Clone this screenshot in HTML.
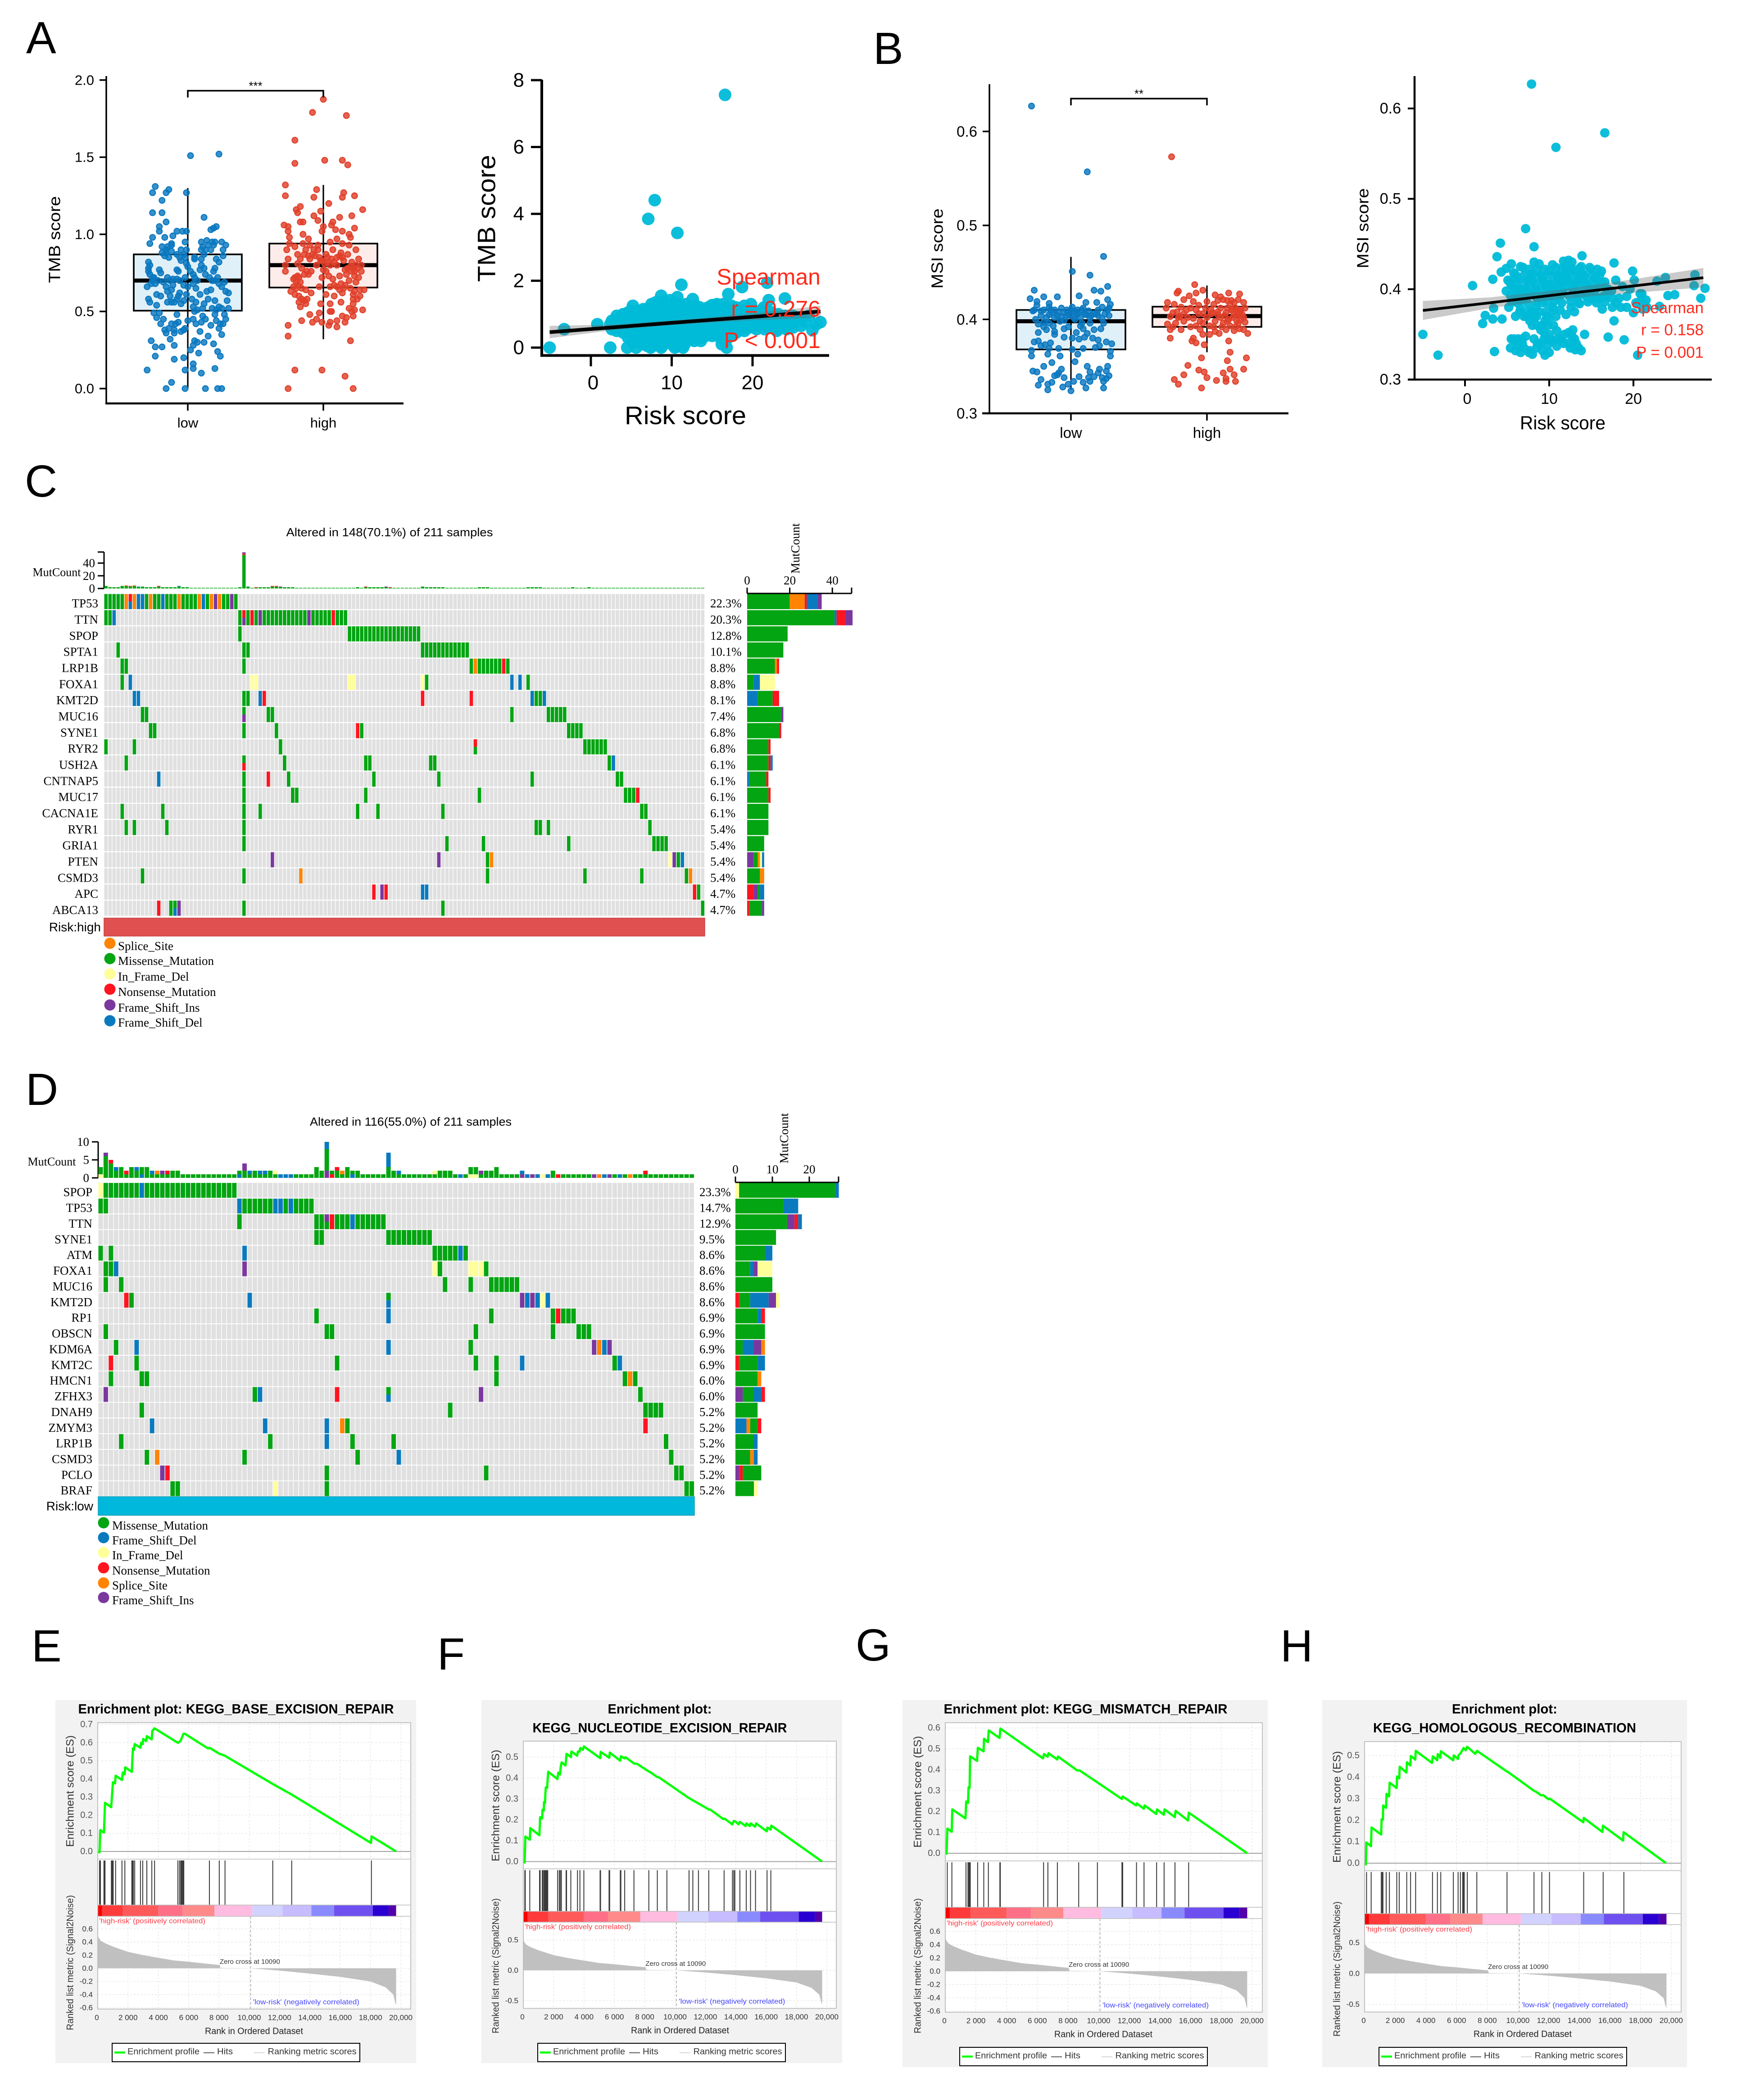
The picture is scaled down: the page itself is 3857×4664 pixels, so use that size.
<!DOCTYPE html>
<html><head><meta charset="utf-8"><title>Figure</title>
<style>
html,body{margin:0;padding:0;background:#fff}
svg{display:block}
text{font-family:"Liberation Sans",Arial,sans-serif}
.serif{font-family:"Liberation Serif","Times New Roman",serif}
</style></head>
<body>
<svg id="fig" xmlns="http://www.w3.org/2000/svg" width="3857" height="4664" viewBox="0 0 3857 4664">
<rect width="3857" height="4664" fill="#fff"/>
<text x="58" y="118" font-size="100">A</text>
<text x="1939" y="142" font-size="100">B</text>
<text x="55" y="1103" font-size="100">C</text>
<text x="57" y="2454" font-size="100">D</text>
<text x="70" y="3690" font-size="100">E</text>
<text x="971" y="3708" font-size="100">F</text>
<text x="1900" y="3688" font-size="100">G</text>
<text x="2843" y="3690" font-size="100">H</text>
</svg>
<script>
/* ===== BOX PLOT DATA: [jitter in category units, value] ===== */
const tmbTicks = [0, 0.5, 1.0, 1.5, 2.0];
const msiTicks = [0.3, 0.4, 0.5, 0.6];
const groupLabels = ['low', 'high'];
/* box stats: [q1, median, q3, whiskerLow, whiskerHigh] */
const tmbBoxLow = [0.505, 0.70, 0.87, 0, 1.30];
const tmbBoxHigh = [0.655, 0.80, 0.94, 0.32, 1.32];
const msiBoxLow = [0.368, 0.398, 0.41, 0.325, 0.4665];
const msiBoxHigh = [0.392, 0.4035, 0.4135, 0.365, 0.436];
const tmbLowPoints = [[.02,1.51],[.23,1.52],[-.24,1.31],[-.26,1.27],[-.14,1.29],[-.16,1.27],[-.01,1.27],[-.19,1.22],[-.26,1.14],[-.19,1.14],[.12,1.11],[.21,1.05],[.19,1.04],[.17,1.03],[-.16,1.08],[-.21,1.05],[-.21,1.02],[-.01,1.02],[-.04,1.02],[-.08,1.02],[-.11,.99],[-.17,.98],[-.26,.98],[-.28,.94],[-.12,.94],[.14,.96],[.18,.95],[.15,.93],[.2,.95],[.25,.95],[.28,.93],[-.12,.93],[-.15,.92],[-.19,.92],[-.16,.9],[-.19,.88],[-.08,.87],[-.02,.95],[-.01,.9],[-.05,.9],[.1,.9],[.12,.87],[.05,.85],[.17,.9],[.26,.9],[.19,.93],[.26,.86],[-.02,.85],[.05,.84],[-.05,.83],[-.29,.82],[-.28,.8],[-.29,.78],[-.29,.76],[-.28,.74],[-.21,.77],[-.2,.75],[-.26,.72],[-.3,.66],[-.26,.7],[-.24,.68],[-.18,.69],[-.13,.7],[-.08,.77],[-.07,.76],[-.01,.81],[0,.79],[.02,.76],[.04,.74],[.1,.8],[.12,.78],[.1,.84],[.21,.84],[.23,.82],[.2,.78],[.19,.76],[.16,.72],[.18,.7],[.23,.68],[.27,.69],[.28,.63],[.04,.68],[.06,.65],[0,.66],[-.03,.67],[-.08,.71],[-.11,.71],[-.16,.66],[-.15,.63],[-.12,.64],[-.06,.62],[-.07,.6],[-.13,.6],[-.2,.6],[-.23,.61],[-.29,.58],[-.28,.56],[-.23,.54],[-.12,.56],[-.1,.56],[-.01,.61],[.03,.58],[.06,.56],[.09,.61],[.14,.63],[.17,.64],[.2,.57],[.29,.57],[.3,.62],[.3,.52],[.23,.53],[.21,.51],[.18,.52],[.11,.52],[.07,.51],[.05,.5],[.11,.47],[-.25,.49],[-.21,.49],[-.23,.46],[-.08,.48],[0,.44],[.04,.45],[.1,.43],[.2,.48],[.28,.45],[.26,.42],[.24,.42],[-.07,.43],[-.12,.42],[-.02,.39],[-.14,.39],[-.1,.38],[-.16,.36],[-.1,.36],[-.05,.37],[-.03,.38],[.09,.37],[.15,.34],[.23,.39],[.25,.35],[.05,.31],[.04,.28],[.07,.3],[.12,.3],[.19,.29],[-.19,.27],[-.1,.28],[.08,.23],[.22,.24],[.24,.21],[-.24,.21],[-.1,.19],[-.03,.2],[.04,.16],[.04,.13],[.2,.13],[-.02,.12],[-.3,.12],[-.12,.04],[-.16,0],[-.02,0],[.13,0],[.22,0],[.25,0],
[-.17,.86],[-.16,.88],[-.14,.85],[-.12,.89],[-.03,.87],[-.06,.85],[.1,.95],[.11,.92],[.13,.9],[-.27,.68],[-.25,.72],[-.22,.7],[-.15,.72],[-.11,.67],[-.06,.7],[-.02,.72],[.05,.72],[.07,.7],[.09,.77],[.13,.74],[.2,.7],[.22,.72],[.25,.66],[-.15,.56],[-.08,.58],[-.05,.55],[-.03,.57],[.04,.53],[.12,.55],[.15,.58],[.25,.52],[.27,.48],[-.18,.45],[-.09,.42],[.06,.42],[.13,.45],[.17,.41],[-.27,.31],[-.24,.27],[.02,.25],[.1,.1],[-.17,.38],[-.2,.42],[.21,.44],[-.13,.32]];
const tmbHighPoints = [[0,1.875],[-.08,1.79],[.17,1.77],[-.21,1.61],[-.21,1.46],[.01,1.48],[.14,1.48],[.18,1.45],[-.28,1.32],[-.05,1.29],[.15,1.27],[.14,1.24],[-.28,1.25],[-.07,1.24],[.23,1.25],[.04,1.2],[.29,1.16],[-.17,1.18],[-.2,1.16],[-.19,1.14],[-.02,1.15],[-.07,1.12],[.21,1.12],[.12,1.11],[-.04,1.09],[.07,1.08],[-.17,1.08],[-.15,1.08],[-.29,1.06],[-.26,1.05],[.06,1.06],[0,1.05],[.23,1.04],[-.26,1.02],[-.15,1],[-.01,1.02],[.09,1.03],[.14,1.02],[.19,1],[-.25,.98],[-.11,.97],[.2,.98],[.1,.97],[-.25,.94],[-.15,.94],[-.1,.93],[-.04,.93],[.05,.95],[.14,.94],[.19,.93],[-.27,.9],[-.21,.92],[-.13,.9],[-.07,.9],[.07,.9],[.13,.88],[.24,.9],[-.19,.87],[.02,.87],[.1,.85],[.18,.87],[-.26,.84],[-.17,.84],[-.1,.84],[-.03,.85],[.03,.85],[.26,.84],[-.28,.8],[-.19,.81],[-.05,.8],[.1,.8],[.21,.82],[.28,.8],[-.28,.76],[-.16,.78],[-.09,.76],[0,.77],[.16,.77],[.23,.76],[.28,.76],[-.19,.73],[-.01,.72],[.12,.73],[.26,.72],[-.21,.72],[-.11,.74],[-.2,.69],[-.17,.69],[-.03,.66],[.13,.68],[.19,.7],[.24,.69],[.1,.66],[.16,.67],[-.19,.67],[-.16,.65],[.27,.64],[.3,.64],[-.21,.61],[-.13,.64],[-.09,.62],[.02,.61],[.08,.6],[.14,.62],[.22,.61],[.22,.58],[-.18,.56],[-.12,.58],[-.02,.55],[.05,.55],[.13,.56],[.22,.55],[.19,.52],[.29,.51],[.23,.51],[-.1,.48],[-.16,.44],[-.08,.43],[-.05,.45],[-.01,.43],[.05,.43],[.1,.44],[.16,.43],[.1,.4],[-.26,.41],[-.26,.34],[.2,.31],[-.21,.12],[-.01,.12],[.16,.08],[-.26,0],[.22,0],
[.2,.79],[.22,.78],[.24,.8],[.25,.78],[.21,.76],[.18,.78],[.17,.74],[.23,.73],[.08,.82],[.05,.8],[.03,.82],[.01,.81],[.06,.84],[-.02,.83],[-.06,.86],[-.08,.87],[-.11,.86],[-.14,.87],[-.04,.9],[-.01,.83],[.12,.86],[.14,.85],[.15,.83],[.02,.76],[.04,.73],[.07,.71],[-.12,.76],[-.14,.74],[-.18,.72],[-.22,.71],[-.2,.65],[-.22,.66],[-.24,.63],[-.18,.6],[-.16,.58],[-.14,.57],[.05,.66],[.08,.67],[.12,.64],[.15,.65],[.2,.65],[.23,.63],[.27,.6],[.25,.58],[-.13,.55],[-.17,.53],[.21,.5],[.22,.47],[.17,.46],[.14,.47],[.05,.5],[.06,.5],[-.03,.49],[.04,.41]];
const msiLowPoints = [[-.29,.627],[.12,.557],[.24,.467],[.01,.451],[.14,.447],[.27,.435],[-.27,.431],[.17,.431],[-.1,.424],[-.2,.424],[-.3,.422],[-.25,.419],[-.16,.417],[.06,.425],[.22,.43],[.27,.421],[.19,.418],[.11,.418],[-.25,.415],[-.16,.413],[-.28,.409],[-.07,.412],[.01,.413],[.09,.412],[.23,.413],[.28,.412],[-.22,.409],[-.14,.407],[-.05,.407],[.04,.407],[.13,.409],[.19,.406],[.28,.404],[-.18,.402],[-.1,.404],[-.01,.404],[.07,.402],[.15,.404],[.23,.401],[-.24,.395],[-.16,.396],[-.08,.398],[-.02,.392],[.07,.393],[.14,.396],[.24,.396],[-.2,.392],[-.12,.387],[-.18,.389],[.09,.39],[.17,.389],[-.12,.384],[-.05,.381],[.01,.38],[.06,.379],[.1,.381],[.16,.38],[-.24,.377],[-.19,.373],[.2,.378],[.26,.376],[.3,.374],[-.09,.369],[-.16,.369],[-.22,.372],[.01,.368],[.09,.369],[.21,.372],[-.29,.367],[-.17,.363],[-.29,.361],[.29,.366],[.29,.361],[.03,.355],[-.14,.354],[.12,.35],[-.07,.347],[-.28,.345],[-.25,.344],[-.09,.343],[.14,.344],[.2,.343],[.26,.345],[-.1,.341],[.06,.339],[.13,.338],[.23,.338],[.26,.337],[-.22,.336],[.02,.334],[-.14,.333],[-.17,.331],[-.06,.328],[-.02,.331],[.14,.334],[.24,.334],[.11,.327],[.24,.327],[-.17,.325],[0,.324],[.05,.406],[-.03,.41],[.11,.405],[-.12,.402],[-.16,.405],[.01,.408],[.03,.4],[-.05,.399],[.08,.396],[.2,.41],
[-.27,.41],[-.22,.404],[-.2,.41],[-.15,.41],[-.12,.41],[-.09,.408],[-.07,.403],[-.03,.404],[0,.41],[.02,.402],[.05,.41],[.08,.41],[.1,.406],[.14,.402],[.17,.406],[.2,.404],[.25,.406],[.27,.41],[.29,.416],[-.26,.4],[-.2,.397],[-.13,.393],[-.05,.39],[.04,.386],[.12,.385],[.22,.39],[-.24,.386],[-.27,.376],[-.15,.375],[-.08,.361],[.05,.363],[.18,.37],[.27,.35],[.21,.347],[.17,.339],[.09,.333],[-.12,.34],[-.2,.35],[-.05,.338],[.28,.34],[-.24,.33]];
const msiHighPoints = [[-.26,.573],[-.09,.437],[-.21,.43],[-.03,.431],[-.22,.428],[.16,.428],[-.08,.428],[.06,.426],[.24,.427],[.1,.424],[-.29,.418],[-.17,.421],[-.1,.419],[0,.419],[.12,.421],[.23,.421],[.27,.418],[-.24,.416],[-.06,.415],[.05,.416],[.17,.416],[-.3,.412],[-.19,.413],[-.12,.412],[-.01,.412],[.1,.412],[.21,.412],[.28,.412],[-.25,.407],[-.17,.406],[-.06,.406],[.04,.407],[.14,.407],[.24,.406],[-.21,.402],[-.1,.401],[0,.402],[.1,.402],[.19,.402],[.27,.402],[-.17,.398],[-.05,.398],[.06,.398],[.15,.398],[.23,.396],[.28,.397],[-.29,.395],[-.08,.393],[.02,.393],[.11,.392],[.21,.392],[-.27,.389],[-.19,.389],[-.05,.389],[.06,.387],[.14,.389],[.27,.389],[.3,.385],[-.03,.384],[.02,.384],[-.27,.38],[.16,.377],[-.11,.377],[-.08,.375],[-.02,.373],[.17,.365],[-.04,.359],[.29,.359],[.15,.356],[-.14,.351],[.17,.347],[.27,.347],[-.06,.346],[-.02,.344],[.12,.343],[-.17,.341],[.2,.341],[0,.338],[.14,.337],[-.24,.336],[.07,.335],[.21,.334],[.14,.334],[-.21,.331],[-.04,.327],[.18,.41],[.22,.405],[.25,.41],[.16,.4],[.08,.405],[.03,.41],
[.2,.405],[.22,.41],[.24,.41],[.26,.405],[.25,.4],[.22,.398],[.18,.41],[.15,.412],[.13,.404],[.08,.408],[.03,.406],[-.03,.406],[-.08,.41],[-.15,.41],[-.22,.408],[-.27,.403],[-.23,.396],[-.2,.403],[-.14,.402],[-.03,.396],[.12,.396],[.17,.393],[.24,.39],[.05,.392],[-.12,.392],[-.25,.392],[.09,.385],[.2,.388],[-.1,.38],[.18,.42],[.08,.42],[-.13,.425],[.2,.418],[.15,.42]];

/* ===== SCATTER DATA: [risk score, value] ===== */
const riskTicks = [0, 10, 20];
const tmbScatterTicks = [0, 2, 4, 6, 8];
const msiScatterTicks = [0.3, 0.4, 0.5, 0.6];
const tmbScatter = [[16.6,7.56],[7.9,4.41],[7.1,3.85],[10.7,3.43],[-5.1,0],[-3.3,.55],[11.2,1.88],[18.7,1.81],[21.8,1.94],[17,1.6],[8.7,1.55],[10.7,1.51],[12.6,1.45],[24,1.47],[5.2,1.25],[22,1.42],[19.8,1.3],[15.8,1.25],[2.4,0],[4.5,0],[5.6,0],[7.4,0],[8.7,0],[10.4,0],[11.4,0],[16.8,0],[.8,.7],[2.4,.7],[27.4,.52],[28.4,.76],[27.9,.7],
[2.6,.55],[2.6,.8],[3.2,.65],[3.2,.95],[3.2,.5],[4,.45],[4,.7],[4,1],[4,.85],[4.6,.3],[4.6,.55],[4.6,.8],[4.6,1.05],[5.2,.15],[5.2,.4],[5.2,.7],[5.2,.95],[5.8,.25],[5.8,.6],[5.8,.85],[5.8,1.1],[6.4,.1],[6.4,.35],[6.4,.55],[6.4,.75],[6.4,1],[7,.2],[7,.45],[7,.7],[7,.9],[7,1.15],[7.6,.05],[7.6,.3],[7.6,.55],[7.6,.8],[7.6,1.05],[8.2,.15],[8.2,.4],[8.2,.65],[8.2,.9],[8.2,1.2],[8.8,.05],[8.8,.3],[8.8,.55],[8.8,.8],[8.8,1],[8.8,1.3],[9.4,.2],[9.4,.45],[9.4,.7],[9.4,.95],[9.4,1.2],[10,.1],[10,.35],[10,.6],[10,.85],[10,1.1],[10,1.3],[10.6,.05],[10.6,.3],[10.6,.55],[10.6,.8],[10.6,1.05],[11.2,.15],[11.2,.4],[11.2,.65],[11.2,.9],[11.2,1.15],[11.8,.3],[11.8,.55],[11.8,.8],[11.8,1.05],[12.4,.45],[12.4,.7],[12.4,.95],[12.4,1.2],[13,.35],[13,.6],[13,.85],[13,1.1],[13.6,.3],[13.6,.5],[13.6,.75],[13.6,1],[14.2,.35],[14.2,.6],[14.2,.85],[14.2,1.05],[14.8,.45],[14.8,.7],[14.8,.95],[15.4,.4],[15.4,.65],[15.4,.9],[15.4,1.15],[16,.3],[16,.55],[16,.8],[16,1.05],[16.6,.2],[16.6,.45],[16.6,.7],[16.6,.95],[16.6,1.2],[17.2,.35],[17.2,.6],[17.2,.85],[17.2,1.1],[17.8,.5],[17.8,.75],[17.8,1],[18.4,.55],[18.4,.8],[18.4,1.05],[19,.6],[19,.85],[19,1.1],[19.6,.6],[19.6,.9],[20.2,.65],[20.2,.9],[20.2,1.1],[20.8,.7],[20.8,.95],[21.4,.75],[21.4,1],[21.4,1.2],[22,.6],[22,.85],[22,1.1],[22.6,.6],[22.6,.85],[22.6,1],[23.2,.55],[23.2,.8],[23.2,1],[23.8,.6],[23.8,.85],[24.4,.7],[24.4,.9],[25,.75],[25,.95],[26,.85],[27,.95],
[6.5,1.15],[7.5,1.3],[8,1.35],[9,1.38],[9.8,1.42],[10.3,1.35],[11,1.3],[11.8,1.3],[13,1.25],[13.5,1.2],[14.5,1.2],[15,1.27],[15.6,1.3],[16.4,1.3],[17.4,1.25],[18,1.2],[19,1.25],[20,1.05],[21,1.1],[23,.95],[24,.95],[25.5,.85],[26.5,.78],[3.5,.85],[5,1.1],[11.6,.1],[9,.1],[7,.05],[6,.2],[14,.5],[15,.35],[12.2,.25],[12.8,.2],[13.6,.2],[16.2,.1],[17,.3],[18,.45],[19,.5],[20.5,.55],[21.5,.55],[23,.5],[24.2,.55],[25,.6],[26,.65]];
const msiScatter = [[7.9,.627],[16.6,.573],[10.8,.557],[7.2,.467],[4.2,.451],[8.2,.447],[3.8,.436],[.9,.404],[3.3,.411],[-5,.35],[-3.2,.327],[3.5,.331],[2.1,.362],[2.4,.371],[3.3,.367],[4.4,.367],[3.4,.379],[13.9,.437],[17.7,.429],[19.9,.42],[27.3,.416],[27.2,.404],[28.5,.401],[28,.39],[24.1,.393],[24.9,.394],[23.8,.413],[22.8,.409],[23.1,.381],[20,.374],[20.5,.327],[18.9,.344],[17,.347],[17.7,.365],[16.3,.378],[14.2,.35],
[5.1,.41],[4.9,.398],[5.5,.405],[4.3,.419],[4.9,.423],[5.5,.428],[5.8,.418],[6.2,.412],[6.6,.425],[7.2,.4],[7.5,.41],[7.9,.417],[8.2,.43],[8.5,.422],[8.8,.428],[9.3,.41],[9.6,.403],[10,.42],[10.4,.427],[10.9,.415],[11.3,.405],[11.7,.431],[12,.425],[12.3,.432],[12.7,.43],[13,.42],[13.4,.41],[13.8,.425],[14.1,.415],[14.5,.405],[15,.422],[15.5,.412],[16,.403],[16.2,.42],[16.6,.408],[17,.4],[17.4,.398],[17.9,.41],[18.3,.39],[18.7,.403],[19.2,.392],[19.6,.4],[20.1,.41],[20.3,.385],[21,.395],[21.5,.388],[6,.395],[6.5,.4],[7,.39],[7.7,.395],[8.4,.4],[9,.39],[9.8,.395],[10.5,.4],[11,.39],[11.6,.398],[12.2,.41],[12.8,.4],[13.3,.39],[14,.395],[14.7,.39],[15.3,.39],[16,.39],[16.8,.392],[17.5,.39],[18.5,.38],[8,.41],[9,.415],[10,.405],[11,.41],[12,.415],[13,.405],[14,.41],[15,.4],[5.2,.38],[6.2,.385],[6.6,.378],[7,.37],[7.3,.37],[8,.375],[8.4,.38],[9.2,.385],[9.6,.375],[10,.368],[10.4,.38],[8.2,.368],[8.6,.36],[9.2,.36],[9.4,.352],[9.7,.37],[12,.372],[13,.375],[12.6,.38],[13.5,.385],[11.3,.377],[10.8,.37],[10.5,.36],[10.9,.354],[12.3,.352],[12.8,.355],[5.5,.345],[6,.343],[6.4,.338],[6.8,.345],[7.2,.348],[7,.335],[7.6,.33],[6,.332],[6.6,.33],[5.4,.335],[7.7,.332],[8,.328],[8.5,.335],[9,.34],[9.4,.345],[9.8,.338],[10,.33],[9.5,.327],[9.2,.332],[10.4,.342],[10.9,.337],[11.4,.345],[11.8,.35],[12.2,.34],[12.7,.348],[13.2,.34],[13.5,.335],[13.8,.332],[13,.345],
[5.6,.386],[6.6,.387],[7.5,.384],[8.6,.386],[9.7,.385],[10.6,.387],[11.5,.385],[12.6,.386],[13.6,.384],[14.6,.386],[15.6,.385],[16.6,.386],
[5.4,.393],[6.4,.392],[7.4,.394],[8.4,.392],[9.4,.393],[10.4,.392],[11.4,.394],[12.4,.392],[13.4,.393],[14.4,.392],[15.4,.394],[16.4,.392],
[5.8,.402],[6.8,.4],[7.8,.402],[8.8,.4],[9.8,.402],[10.8,.4],[11.8,.402],[12.8,.401],[13.8,.402],[14.8,.4],[15.8,.402],[16.8,.4],
[5.3,.408],[6.3,.407],[7.3,.409],[8.3,.407],[9.3,.408],[10.3,.407],[11.3,.409],[12.3,.407],[13.3,.408],[14.3,.407],[15.3,.409],[16.3,.407],
[6,.416],[7,.415],[8,.417],[9,.415],[10,.416],[11,.415],[12,.417],[13,.415],[14,.417],[15,.415],[16,.416],
[6.9,.424],[7.6,.422],[9.5,.422],[10.8,.424],[11.5,.423],[12.6,.424],[13.6,.423],[14.8,.424],[15.7,.422],
[7.5,.375],[8.5,.37],[9.5,.365],[8,.36],[9,.355],[9.8,.36],[10,.35],[9.6,.345],[7.7,.365],[8.8,.375],[10.5,.377],[6.5,.375],[6,.37],[5.8,.345],[6.3,.345],[6.8,.34],[8.2,.345],[8.6,.34],[10.2,.345],[12.5,.335],[12.9,.338],[13.1,.333],[11.7,.34],[11,.345],
[20.8,.395],[21,.39],[21.3,.385],[21.6,.38],[21.1,.378],[20.6,.385],[19.2,.38],[18,.385],[17.5,.38]];
/* regression: risk, fit, lower, upper */
const tmbFitRisk = [-5.1, 3, 11, 20, 28.4];
const tmbFitValue = [0.46, 0.61, 0.76, 0.92, 1.08];
const tmbFitLow = [0.28, 0.53, 0.69, 0.82, 0.89];
const tmbFitHigh = [0.65, 0.69, 0.83, 1.02, 1.25];
const msiFitRisk = [-5, 3, 11, 20, 28.3];
const msiFitValue = [0.3765, 0.385, 0.394, 0.4036, 0.4127];
const msiFitLow = [0.366, 0.379, 0.389, 0.396, 0.402];
const msiFitHigh = [0.387, 0.391, 0.399, 0.411, 0.4235];

/* ===== ONCOPLOT C DATA ===== */
const mutColors = {M:'#03a512',S:'#ff8404',I:'#ffff99',N:'#ff1420',F:'#7a389e',D:'#0a7abf'};
const mutNames = {M:'Missense_Mutation',S:'Splice_Site',I:'In_Frame_Del',N:'Nonsense_Mutation',F:'Frame_Shift_Ins',D:'Frame_Shift_Del'};
const cGenes = ['TP53','TTN','SPOP','SPTA1','LRP1B','FOXA1','KMT2D','MUC16','SYNE1','RYR2','USH2A','CNTNAP5','MUC17','CACNA1E','RYR1','GRIA1','PTEN','CSMD3','APC','ABCA13'];
const cPercents = [22.3,20.3,12.8,10.1,8.8,8.8,8.1,7.4,6.8,6.8,6.1,6.1,6.1,6.1,5.4,5.4,5.4,5.4,4.7,4.7];
const cLegendOrder = ['S','M','I','N','F','D'];
const cTopTicks = [0,20,40];
const cSideTicks = [0,20,40];
const cCells = [
 [[0,4,'M'],[5,5,'S'],[6,6,'N','D'],[7,7,'S'],[8,9,'D'],[10,10,'M'],[11,11,'S'],[12,13,'M'],[14,14,'D'],[15,17,'M'],[18,18,'S'],[19,22,'M'],[23,23,'S'],[24,24,'D'],[25,25,'M'],[26,26,'S'],[27,27,'F'],[28,28,'S'],[29,30,'M'],[31,31,'F'],[32,32,'M']],
 [[0,1,'M'],[2,2,'D'],[33,33,'M'],[34,34,'N','F'],[35,35,'M'],[36,36,'N'],[37,37,'M'],[38,38,'F'],[39,49,'M'],[50,50,'F'],[51,55,'M'],[56,56,'N'],[57,59,'M']],
 [[33,33,'M'],[60,77,'M']],
 [[3,3,'M'],[34,35,'M'],[78,89,'M']],
 [[4,5,'M'],[34,34,'M'],[90,90,'M'],[91,91,'S'],[92,97,'M'],[98,98,'N'],[99,99,'M']],
 [[4,4,'M'],[6,6,'D'],[36,37,'I'],[60,61,'I'],[78,78,'I'],[79,79,'M'],[100,100,'D'],[102,102,'D'],[104,104,'M']],
 [[7,8,'D'],[34,35,'M'],[38,38,'D'],[39,39,'N'],[78,78,'N'],[90,90,'N'],[105,105,'D'],[106,107,'M'],[108,108,'D']],
 [[9,10,'M'],[34,34,'M','F'],[40,41,'M'],[100,100,'M'],[109,113,'M']],
 [[11,12,'M'],[34,34,'M'],[42,42,'M'],[62,62,'N'],[63,63,'M'],[114,117,'M']],
 [[0,0,'M'],[7,7,'M'],[43,43,'M'],[91,91,'N','M'],[118,123,'M']],
 [[5,5,'M'],[34,34,'M','N'],[44,44,'M'],[64,65,'M'],[80,81,'M'],[124,124,'M'],[125,125,'D']],
 [[13,13,'D'],[34,34,'M'],[40,40,'N'],[45,45,'M'],[66,66,'M'],[82,82,'M'],[105,105,'M'],[126,127,'M']],
 [[34,34,'M'],[46,47,'M'],[64,64,'M'],[92,92,'M'],[128,130,'M'],[131,131,'N']],
 [[4,4,'M'],[14,14,'M'],[34,34,'M'],[38,38,'M'],[62,62,'M'],[67,67,'M'],[83,83,'M'],[132,133,'M']],
 [[5,5,'M'],[7,7,'M'],[15,15,'M'],[34,34,'M'],[106,107,'M'],[109,109,'M'],[134,134,'M']],
 [[34,34,'M'],[84,84,'M'],[93,93,'M'],[114,114,'M'],[135,138,'M']],
 [[41,41,'F'],[82,82,'F'],[94,94,'M'],[95,95,'S'],[139,139,'I'],[140,140,'F'],[141,141,'M'],[142,142,'D']],
 [[9,9,'M'],[34,34,'M'],[48,48,'S'],[94,94,'M'],[118,118,'M'],[132,132,'M'],[143,143,'M'],[144,144,'S']],
 [[66,66,'N'],[68,68,'F'],[69,69,'N'],[78,79,'D'],[145,145,'N'],[146,146,'M']],
 [[13,13,'N'],[16,16,'M'],[17,17,'M','D'],[18,18,'F'],[34,34,'M'],[83,83,'M'],[147,147,'M']]
];
const cSideBars = [
 [['M',20],['S',7],['N',1],['D',5],['F',2]],[['M',41],['D',1],['N',4],['F',3.5]],[['M',19]],[['M',17]],[['M',13],['S',1],['N',1]],
 [['M',3],['D',3],['I',7]],[['D',5],['M',7],['N',3]],[['M',16],['F',1]],[['M',15],['N',1]],[['M',10],['N',1]],
 [['M',10],['N',1],['D',1]],[['D',1],['M',8],['N',1]],[['M',10],['N',1]],[['M',10]],[['M',10]],
 [['M',8]],[['F',3],['M',2],['S',1],['I',1],['D',1]],[['M',6],['S',2]],[['N',3],['F',2],['M',1],['D',2]],[['N',1],['M',6],['F',1]]
];
const cTopCounts = [4,2,2,2,4,4,3,4,2,3,2,2,2,3,2,2,2,2,3,2,2,1,1,1,1,1,1,1,1,1,1,1,1,2,53,3,1,1,2,2,2,3,3,2,2,2,2,1,1,1,1,1,1,1,1,1,1,1,1,1,1,1,2,1,2,2,2,2,2,2,1,1,1,1,1,1,1,1,3,2,2,2,2,2,1,1,1,1,1,1,1,1,2,2,2,1,1,1,1,1,1,1,1,1,2,2,2,2,1,1,1,1,1,1,1,2,1,1,1,2,1,1,1,1,1,1,1,1,1,1,1,1,1,1,1,1,1,1,1,1,1,1,1,1,1,1,1,1];
const cTopExtras = [[5,'S'],[6,'N'],[7,'S'],[8,'D'],[13,'N'],[18,'D'],[34,'NNFF'],[37,'N'],[41,'N'],[42,'N'],[43,'F'],[64,'N'],[69,'F'],[70,'N']];

/* ===== ONCOPLOT D DATA ===== */
const dGenes = ['SPOP','TP53','TTN','SYNE1','ATM','FOXA1','MUC16','KMT2D','RP1','OBSCN','KDM6A','KMT2C','HMCN1','ZFHX3','DNAH9','ZMYM3','LRP1B','CSMD3','PCLO','BRAF'];
const dPercents = [23.3,14.7,12.9,9.5,8.6,8.6,8.6,8.6,6.9,6.9,6.9,6.9,6.0,6.0,5.2,5.2,5.2,5.2,5.2,5.2];
const dLegendOrder = ['M','D','I','N','S','F'];
const dTopTicks = [0,5,10];
const dSideTicks = [0,10,20];
const dCells = [
 [[0,0,'I'],[1,7,'M'],[8,8,'D'],[9,26,'M']],
 [[0,1,'M'],[27,27,'D'],[28,33,'M'],[34,35,'D'],[36,36,'M'],[37,37,'D'],[38,41,'M']],
 [[27,27,'M'],[42,43,'M'],[44,44,'F','M'],[45,45,'N'],[46,48,'M'],[49,49,'D'],[50,55,'M']],
 [[42,43,'M'],[56,64,'M']],
 [[0,0,'M'],[2,2,'M'],[28,28,'D'],[65,69,'M'],[70,70,'D'],[71,71,'M']],
 [[1,2,'M'],[3,3,'D'],[28,28,'F'],[65,65,'I'],[66,66,'M'],[72,74,'I'],[75,75,'M']],
 [[1,1,'M'],[4,4,'M'],[67,67,'M'],[72,72,'M'],[76,81,'M']],
 [[5,5,'N'],[6,6,'M'],[29,29,'D'],[56,56,'M','D'],[82,82,'F'],[83,83,'D'],[84,84,'F'],[85,85,'D'],[86,86,'I'],[87,87,'D']],
 [[42,42,'M'],[56,56,'D'],[76,76,'M'],[88,88,'M'],[89,89,'N'],[90,92,'M']],
 [[1,1,'M'],[44,45,'M'],[73,73,'M'],[88,88,'M'],[93,95,'M']],
 [[3,3,'M'],[7,7,'D'],[56,56,'D'],[72,72,'M'],[96,96,'F'],[97,97,'S'],[98,98,'D'],[99,99,'F']],
 [[2,2,'N'],[7,7,'M'],[46,46,'M'],[73,73,'M'],[77,77,'M'],[82,82,'D'],[100,100,'M'],[101,101,'D']],
 [[2,2,'M'],[8,9,'M'],[77,77,'M'],[102,102,'M'],[103,103,'S'],[104,104,'M']],
 [[1,1,'F'],[30,30,'M'],[31,31,'D'],[46,46,'N'],[56,56,'M','D'],[74,74,'F'],[105,105,'M']],
 [[8,8,'M'],[68,68,'M'],[106,109,'M']],
 [[10,10,'D'],[32,32,'D'],[44,44,'D'],[47,47,'S'],[48,48,'M'],[106,106,'N']],
 [[4,4,'M'],[33,33,'M'],[44,44,'D'],[49,49,'M'],[57,57,'M'],[110,110,'M']],
 [[9,9,'M'],[11,11,'S'],[28,28,'M'],[50,50,'M'],[58,58,'D'],[111,111,'M']],
 [[12,12,'F'],[13,13,'N'],[44,44,'M'],[75,75,'M'],[112,113,'M']],
 [[14,15,'M'],[34,34,'I'],[44,44,'M'],[114,115,'M']]
];
const dSideBars = [
 [['I',1],['M',26],['D',1]],[['M',13],['D',4]],[['M',14],['F',2],['N',1],['D',1]],[['M',11]],[['M',8],['D',2]],
 [['M',4],['D',1],['F',1],['I',4]],[['M',10]],[['N',1],['M',3],['D',5],['F',2],['I',1]],[['M',6],['D',1],['N',1]],[['M',8]],
 [['M',2],['D',3],['F',2],['S',1]],[['N',1],['M',5],['D',2]],[['M',6],['S',1]],[['F',2],['M',3],['D',2],['N',1]],[['M',6]],
 [['D',3],['S',1],['M',2],['N',1]],[['M',5],['D',1]],[['M',4],['S',1],['D',1]],[['F',1],['N',1],['M',5]],[['M',5],['I',1]]
];
/* each string is one column's mutation stack, bottom to top */
const dTopStacks = ['IMM','MMMMMMF','MMMMN','MMD','MMM','MN','MMM','MMD','DMM','MMM','MD','MS','MF','MN','MM','MM','M','M','M','M','M','M','M','M','M','M','M','DM','MMFF','MD','MM','MD','MD','MM','MI','D','D','D','M','M','M','M','MMM','MM','FFMMMMMMDD','NM','MMN','MS','MMM','DM','MM','M','M','M','M','M','MMMDDDD','MM','MD','M','M','M','M','M','M','MI','MM','MM','MM','M','D','M','IMM','IMM','MF','MM','MM','MMM','M','M','M','M','FD','D','F','D','I','D','MM','N','M','M','M','M','M','M','F','S','D','F','M','D','M','S','M','M','MN','M','M','M','M','M','M','M','M','M'];

/* ===== GSEA DATA ===== */
const rankTicks = [0,2000,4000,6000,8000,10000,12000,14000,16000,18000,20000];
const rankTickLabels = ['0','2 000','4 000','6 000','8 000','10,000','12,000','14,000','16,000','18,000','20,000'];
const metricRanks = [0,50,200,500,1000,2000,3000,4000,5000,6000,7000,8050,8100,10090,12000,14000,16000,18000,19000,19500,19660,19690];
const metricValues = [.52,.47,.42,.38,.33,.25,.2,.16,.12,.1,.075,.05,.005,0,-.035,-.08,-.13,-.2,-.29,-.4,-.55,-.55];
const stripRanks = [0,290,1650,4000,5590,7700,10200,12200,14100,15600,18150,19200,19690];
const stripShades = ['#f80000','#ff3a3a','#ff5a5a','#ff7088','#ff8a8a','#ffbce0','#d2d2ff','#c6bcff','#8a8aff','#6e50f0','#2a00d2','#5200aa'];
const esRankE = [0,120,170,410,480,890,1005,1140,1180,1600,1655,1775,1810,2250,2320,2390,2440,2815,2866,2970,3000,3190,3240,3565,3600,3750,5290,5460,5660,5750,7285,7370,8020,8390,11550,12800,18030,18070,19690];
const esValueE = [0,-.005,.118,.104,.268,.244,.382,.375,.418,.394,.435,.425,.464,.439,.568,.56,.592,.572,.6,.592,.62,.609,.636,.618,.665,.679,.599,.609,.649,.649,.568,.572,.539,.528,.372,.314,.047,.083,0];
const hitsE = [120,170,180,410,440,480,900,950,990,1020,1180,1600,1790,2250,2280,2320,2350,2440,2820,2970,3240,3570,3750,5290,5400,5480,5530,5590,5640,5680,7370,8020,8400,11550,12800,18060];
const esRankF = [0,85,136,426,460,1058,1110,1245,1262,1350,1365,1433,1450,1484,1570,1638,2250,2303,2422,2457,2525,2780,2850,3140,3173,3550,3600,3700,3753,3924,3992,5067,5100,5664,5698,6380,6430,6670,6720,7285,7490,8274,8390,8820,8960,10870,11175,11550,12230,12320,13170,13290,13770,13870,13940,14190,14260,14650,14700,14930,14980,15270,15340,16040,16090,16290,16340,19690];
const esValueF = [0,-.004,.12,.105,.16,.126,.213,.207,.248,.244,.285,.281,.32,.355,.353,.43,.395,.426,.417,.45,.475,.46,.516,.5,.527,.507,.527,.526,.543,.535,.551,.495,.525,.497,.522,.483,.504,.494,.5,.47,.468,.431,.427,.405,.402,.306,.293,.278,.249,.249,.204,.204,.178,.194,.194,.178,.19,.17,.183,.17,.183,.167,.183,.145,.163,.153,.172,0];
const hitsF = [100,130,426,1070,1110,1250,1300,1370,1420,1460,1490,1530,1580,1610,2260,2370,2440,2510,2820,2850,3130,3570,3730,3990,5060,5090,5650,5690,6390,6430,6680,7290,8270,8830,9460,10920,11170,11540,12220,13230,13780,13870,13940,14270,14690,14970,15300,16060,16310];
const esRankG = [0,85,135,420,455,1315,1365,1484,1517,1585,1618,2074,2124,2495,2529,2782,2832,3540,3591,6373,6440,6677,6727,7300,7350,8615,8750,11515,11565,12440,12490,12950,13000,13757,13810,14250,14300,14970,15020,15830,15880,19690];
const esValueG = [0,-.002,.118,.103,.21,.167,.248,.241,.316,.313,.464,.442,.505,.488,.548,.532,.588,.552,.597,.454,.475,.462,.479,.449,.463,.396,.397,.26,.272,.229,.239,.213,.229,.188,.21,.184,.21,.173,.203,.157,.194,0];
const hitsG = [130,430,1350,1480,1540,1590,1630,2110,2510,2810,3560,3590,6410,6690,7310,8700,9920,11520,11570,12470,12960,13780,14270,14980,15870];
const esRankH = [0,85,118,420,455,1080,1113,1197,1214,1400,1433,1600,1635,2090,2124,2260,2293,2731,2765,2984,3018,3305,3338,4400,4451,4738,4771,4940,4974,5783,5817,6087,6120,6272,6457,6592,6693,7216,7334,9240,9408,11010,11178,11515,11650,11988,12070,14264,14297,15511,15545,16860,16894,19660];
const esValueH = [0,-.006,.096,.079,.166,.133,.204,.202,.268,.257,.322,.31,.374,.349,.403,.394,.448,.421,.469,.454,.498,.481,.522,.466,.496,.478,.507,.49,.52,.478,.501,.484,.5,.512,.535,.524,.541,.508,.522,.428,.421,.338,.332,.315,.316,.297,.3,.19,.21,.145,.174,.105,.144,0];
const hitsH = [130,430,1090,1150,1200,1410,1620,2100,2260,2750,3000,3330,4430,4750,4970,5790,6100,6250,6400,6450,6500,6700,7320,9290,11050,11560,12060,14290,15560,16910];
const esTicksE = [0,.1,.2,.3,.4,.5,.6,.7];
const esTicksF = [0,.1,.2,.3,.4,.5];
const esTicksG = [0,.1,.2,.3,.4,.5,.6];
const esTicksH = [0,.1,.2,.3,.4,.5];
const metricTicksWide = [-.6,-.4,-.2,0,.2,.4,.6];
const metricTicksNarrow = [-.5,0,.5];

/* ===== DRAWING HELPERS ===== */
const NS = 'http://www.w3.org/2000/svg';
const fig = document.getElementById('fig');
function group(name, parent){
  const n = document.createElementNS(NS,'g');
  
  
  (parent||fig).appendChild(n);
  return n;
}
function line(p,x1,y1,x2,y2,stroke,w,name,dash){
  const n = document.createElementNS(NS,'line');
  n.setAttribute('x1',x1);n.setAttribute('y1',y1);n.setAttribute('x2',x2);n.setAttribute('y2',y2);
  n.setAttribute('stroke',stroke);n.setAttribute('stroke-width',w);
  if(dash)n.setAttribute('stroke-dasharray',dash);
  
  
  p.appendChild(n);return n;
}
function rect(p,x,y,w,h,fill,name,stroke,sw){
  const n = document.createElementNS(NS,'rect');
  n.setAttribute('x',x);n.setAttribute('y',y);n.setAttribute('width',w);n.setAttribute('height',h);
  n.setAttribute('fill',fill);
  if(stroke){n.setAttribute('stroke',stroke);n.setAttribute('stroke-width',sw);}
  
  
  p.appendChild(n);return n;
}
function dot(p,x,y,r,fill,op,name,ring){
  const n = document.createElementNS(NS,'circle');
  n.setAttribute('cx',x);n.setAttribute('cy',y);n.setAttribute('r',r);n.setAttribute('fill',fill);
  if(op)n.setAttribute('fill-opacity',op);
  if(ring){n.setAttribute('stroke',fill);n.setAttribute('stroke-width',ring);}
  
  
  p.appendChild(n);return n;
}
function poly(p,tag,pts,fill,stroke,sw,name,op){
  const n = document.createElementNS(NS,tag);
  n.setAttribute('points',pts.map(q=>q[0].toFixed(1)+','+q[1].toFixed(1)).join(' '));
  n.setAttribute('fill',fill);
  if(stroke){n.setAttribute('stroke',stroke);n.setAttribute('stroke-width',sw);n.setAttribute('stroke-linejoin','round');}
  if(op)n.setAttribute('fill-opacity',op);
  
  
  p.appendChild(n);return n;
}
function txt(p,x,y,s,size,name,o){
  o=o||{};
  const n = document.createElementNS(NS,'text');
  n.setAttribute('x',x);n.setAttribute('y',y);
  n.setAttribute('font-size',size);
  n.setAttribute('dominant-baseline','central');
  n.setAttribute('text-anchor',o.anchor||'middle');
  n.setAttribute('fill',o.fill||'#000');
  if(o.serif)n.setAttribute('class','serif');
  if(o.bold)n.setAttribute('font-weight','bold');
  if(o.len){n.setAttribute('textLength',o.len);n.setAttribute('lengthAdjust','spacingAndGlyphs');}
  if(o.rot)n.setAttribute('transform','rotate(-90 '+x+' '+y+')');
  n.textContent=s;
  
  
  p.appendChild(n);return n;
}

/* ===== BOX PANELS ===== */
function boxPanel(c){
  const g = group(c.name);
  const y = c.y, cx = i=>c.cat0+i*c.catStep;
  c.boxes.forEach((b,i)=>{
    rect(g,cx(i)-c.half,y(b[2]),2*c.half,y(b[0])-y(b[2]),c.fills[i],'box-'+groupLabels[i],'#000',3.6);
    line(g,cx(i),y(b[3]),cx(i),y(b[2]),'#000',3.2,'whisker-lower-'+groupLabels[i]);
    line(g,cx(i),y(b[0]),cx(i),y(b[4]),'#000',3.2,'whisker-upper-'+groupLabels[i]);
    line(g,cx(i)-c.half,y(b[1]),cx(i)+c.half,y(b[1]),'#000',9,'median-'+groupLabels[i]);
  });
  c.points.forEach((pts,i)=>pts.forEach(q=>dot(g,cx(i)+q[0]*c.catStep,y(q[1]),6.4,c.colors[i],'0.82','jitter-point-'+groupLabels[i],2.2)));
  line(g,c.axisX,c.top,c.axisX,c.axisY+2,'#000',3.5,'y-axis');
  line(g,c.xStart,c.axisY,c.xEnd,c.axisY,'#000',4.5,'x-axis');
  c.ticks.forEach(t=>{
    line(g,c.axisX-15,y(t),c.axisX,y(t),'#000',3.5,'y-tick');
    txt(g,c.axisX-27,y(t),t.toFixed(1),c.tickFont,'y-tick-label',{anchor:'end'});
  });
  groupLabels.forEach((l,i)=>{
    line(g,cx(i),c.axisY,cx(i),c.axisY+16,'#000',3.5,'x-tick');
    txt(g,cx(i),c.axisY+43,l,c.tickFont,'x-tick-label-'+l);
  });
  txt(g,c.titleX,c.titleY,c.title,36,'y-axis-title',{rot:1,len:c.titleLen});
  const b0=cx(0),b1=cx(1);
  const br=poly(g,'polyline',[[b0,c.brY+15],[b0,c.brY],[b1,c.brY],[b1,c.brY+15]],'none','#000',3.5,'significance-bracket');
  br.setAttribute('stroke-linejoin','miter');
  txt(g,(b0+b1)/2,c.brY-11,c.stars,26,'significance-stars');
}
boxPanel({name:'tmb-boxplot',y:v=>863-342.6*v,cat0:417,catStep:301,half:120,boxes:[tmbBoxLow,tmbBoxHigh],points:[tmbLowPoints,tmbHighPoints],
  fills:['#e0f0f8','#fdecea'],colors:['#0a78c0','#e0402a'],axisX:236,top:169,axisY:896,xStart:234,xEnd:896,ticks:tmbTicks,tickFont:31,
  title:'TMB score',titleX:121,titleY:532,titleLen:193,brY:201.5,stars:'***'});
boxPanel({name:'msi-boxplot',y:v=>918-(v-.3)*2087,cat0:2378,catStep:302,half:121,boxes:[msiBoxLow,msiBoxHigh],points:[msiLowPoints,msiHighPoints],
  fills:['#e0f0f8','#fdecea'],colors:['#0a78c0','#e0402a'],axisX:2197,top:187,axisY:918,xStart:2181,xEnd:2861,ticks:msiTicks,tickFont:33,
  title:'MSI score',titleX:2081,titleY:552,titleLen:178,brY:219,stars:'**'});

/* ===== SCATTER PANELS ===== */
function scatterPanel(c){
  const g = group(c.name);
  const X=c.x,Y=c.y;
  c.points.forEach(q=>dot(g,X(q[0]),Y(q[1]),c.r,'#00bbd8','0.95','scatter-point'));
  const band=[];
  c.fitX.forEach((v,i)=>band.push([X(v),Y(c.fitHi[i])]));
  for(let i=c.fitX.length-1;i>=0;i--)band.push([X(c.fitX[i]),Y(c.fitLo[i])]);
  poly(g,'polygon',band,'#666',null,0,'confidence-band','0.35');
  poly(g,'polyline',c.fitX.map((v,i)=>[X(v),Y(c.fitY[i])]),'none','#000',c.lw,'regression-line');
  line(g,c.axisX,c.top,c.axisX,c.axisY+c.aw/2,'#000',c.aw,'y-axis');
  line(g,c.xStart,c.axisY,c.xEnd,c.axisY,'#000',c.aw,'x-axis');
  c.yTicks.forEach(t=>{
    line(g,c.axisX-c.tl,Y(t),c.axisX,Y(t),'#000',c.tw,'y-tick');
    txt(g,c.axisX-c.tl-15,Y(t),c.fmt(t),c.font,'y-tick-label',{anchor:'end'});
  });
  riskTicks.forEach(t=>{
    line(g,X(t),c.axisY,X(t),c.axisY+c.xtl,'#000',c.tw,'x-tick');
    txt(g,X(t)+(t===0?5:0),c.xLabelY,String(t),c.font,'x-tick-label');
  });
  txt(g,c.xTitleX,c.xTitleY,'Risk score',c.xFont,'x-axis-title',{len:c.xLen});
  txt(g,c.yTitleX,c.yTitleY,c.yTitle,c.yFont,'y-axis-title',{rot:1,len:c.yLen});
  c.stats.forEach((s,i)=>txt(g,c.statX,c.statY[i],s,c.statFont,'stat-label-'+i,{anchor:'end',fill:'#ff2a1c'}));
}
scatterPanel({name:'tmb-risk-scatter',x:v=>1312+17.95*v,y:v=>772-74.25*v,r:14,points:tmbScatter,fitX:tmbFitRisk,fitY:tmbFitValue,fitLo:tmbFitLow,fitHi:tmbFitHigh,lw:8,
  axisX:1203,top:177,axisY:789.5,xStart:1203,xEnd:1841,aw:6,tl:24,tw:5,yTicks:tmbScatterTicks,fmt:t=>String(t),font:44,xtl:24,xLabelY:850,
  xTitleX:1522,xTitleY:923,xFont:57,xLen:270,yTitle:'TMB score',yTitleX:1080,yTitleY:485,yFont:56,yLen:282,
  stats:['Spearman','r = 0.276','P < 0.001'],statX:1822,statY:[615,686,756],statFont:50});
scatterPanel({name:'msi-risk-scatter',x:v=>3253+18.7*v,y:v=>843-(v-.3)*2007,r:10.5,points:msiScatter,fitX:msiFitRisk,fitY:msiFitValue,fitLo:msiFitLow,fitHi:msiFitHigh,lw:6,
  axisX:3141,top:169,axisY:843,xStart:3126,xEnd:3801,aw:4.5,tl:15,tw:4,yTicks:msiScatterTicks,fmt:t=>t.toFixed(1),font:34,xtl:15,xLabelY:886,
  xTitleX:3470,xTitleY:939,xFont:42,xLen:190,yTitle:'MSI score',yTitleX:3026,yTitleY:507,yFont:36,yLen:178,
  stats:['Spearman','r = 0.158','P = 0.001'],statX:3783,statY:[684,733,783],statFont:35});

/* ===== ONCOPLOTS ===== */
function oncoplot(c){
  const g = group(c.name);
  const n=c.cols,w=(c.x1-c.x0)/n;
  const rowY=i=>c.rowTop+i*c.rowStep;
  const colX=j=>c.x0+j*w;
  txt(g,c.titleX,c.titleY,c.title,26,'oncoplot-title',{len:c.titleLen});
  /* top bars */
  const topY=v=>c.top0-c.topScale*v;
  line(g,c.x0,c.topAxisTop,c.x0,c.top0,'#000',3,'mutcount-y-axis');
  line(g,c.x0-14,c.topAxisTop,c.x0,c.topAxisTop,'#000',3,'mutcount-y-axis-cap');
  c.topTicks.forEach(t=>{
    line(g,c.x0-14,topY(t),c.x0,topY(t),'#000',3,'mutcount-tick');
    txt(g,c.x0-20,topY(t),String(t),27,'mutcount-tick-label',{anchor:'end',serif:1});
  });
  txt(g,c.topLabelX,c.topLabelY,'MutCount',26,'mutcount-label',{serif:1});
  c.topStacks.forEach((st,j)=>{
    let base=0;
    st.forEach(part=>{
      rect(g,colX(j)+.5,topY(base+part[1]),w-1.5,c.topScale*part[1],mutColors[part[0]],'mutcount-bar');
      base+=part[1];
    });
  });
  /* grid */
  c.genes.forEach((name,i)=>{
    for(let j=0;j<n;j++) rect(g,colX(j)+.5,rowY(i),w-1.4,c.rowH,'#e0e0e0','grid-cell');
    txt(g,c.x0-13,rowY(i)+c.rowH/2+4,name,27,'gene-label-'+name,{anchor:'end',serif:1});
    txt(g,c.pctX,rowY(i)+c.rowH/2+4,c.pct[i].toFixed(1)+'%',27,'percent-label-'+name,{anchor:'start',serif:1});
    c.cells[i].forEach(t=>{
      for(let j=t[0];j<=t[1];j++){
        if(t[3]){
          rect(g,colX(j)+.5,rowY(i),w-1.4,c.rowH/2,mutColors[t[2]],'mutation-cell-'+name);
          rect(g,colX(j)+.5,rowY(i)+c.rowH/2,w-1.4,c.rowH/2,mutColors[t[3]],'mutation-cell-'+name);
        } else rect(g,colX(j)+.5,rowY(i),w-1.4,c.rowH,mutColors[t[2]],'mutation-cell-'+name);
      }
    });
    let s=c.side0;
    c.side[i].forEach(part=>{
      const bw=part[1]*c.sideScale;
      rect(g,s,rowY(i),bw,c.rowH,mutColors[part[0]],'side-bar-'+name);
      s+=bw;
    });
  });
  /* side axis */
  line(g,c.side0,c.sideAxisY,c.sideEnd,c.sideAxisY,'#000',3,'side-x-axis');
  c.sideTicks.forEach(t=>{
    const x=c.side0+t*c.sideScale;
    line(g,x,c.sideAxisY-13,x,c.sideAxisY,'#000',3,'side-tick');
    txt(g,x,c.sideAxisY-29,String(t),27,'side-tick-label',{serif:1});
  });
  line(g,c.sideEnd,c.sideAxisY-13,c.sideEnd,c.sideAxisY,'#000',3,'side-axis-end-tick');
  txt(g,c.sideLabelX,c.sideLabelY,'MutCount',27,'side-axis-title',{serif:1,rot:1,len:112});
  /* risk */
  rect(g,c.x0,c.riskTop,c.x1-c.x0,c.riskH,c.riskFill,'risk-bar',c.riskStroke,1.5);
  txt(g,c.riskLabelX,c.riskTop+c.riskH/2,c.riskLabel,28,'risk-label',{anchor:'end'});
  /* legend */
  c.legendOrder.forEach((k,i)=>{
    dot(g,c.legendX,c.legendCircleY[i],12.5,mutColors[k],null,'legend-swatch-'+k);
    txt(g,c.legendTextX,c.legendTextY[i],mutNames[k],27,'legend-entry-'+k,{anchor:'start',serif:1});
  });
}
const cTopStacks = cTopCounts.map((v,j)=>{
  const st=[['M',v]];
  cTopExtras.filter(e=>e[0]===j).forEach(e=>e[1].split('').forEach(ch=>st.push([ch,1])));
  return st;
});
const dTopParts = dTopStacks.map(s=>s.split('').map(ch=>[ch,1]));
oncoplot({name:'oncoplot-high-risk',cols:148,x0:231,x1:1565,rowTop:1319.3,rowStep:35.84,rowH:33.6,genes:cGenes,pct:cPercents,cells:cCells,side:cSideBars,
  title:'Altered in 148(70.1%) of 211 samples',titleX:865,titleY:1182,titleLen:459,top0:1307,topScale:1.41,topAxisTop:1226,topTicks:cTopTicks,topLabelX:126,topLabelY:1271,topStacks:cTopStacks,
  pctX:1577,side0:1659,sideScale:4.73,sideEnd:1891,sideAxisY:1318,sideTicks:cSideTicks,sideLabelX:1766,sideLabelY:1218,
  riskTop:2039,riskH:40,riskFill:'#e05050',riskStroke:'#c24040',riskLabel:'Risk:high',riskLabelX:224,
  legendOrder:cLegendOrder,legendX:244,legendCircleY:[2095,2129,2163,2197,2232,2267],legendTextX:262,legendTextY:[2101,2134,2169,2203,2238,2271]});
oncoplot({name:'oncoplot-low-risk',cols:116,x0:218,x1:1542,rowTop:2627.2,rowStep:34.87,rowH:33,genes:dGenes,pct:dPercents,cells:dCells,side:dSideBars,
  title:'Altered in 116(55.0%) of 211 samples',titleX:912,titleY:2491,titleLen:448,top0:2616,topScale:8,topAxisTop:2536,topTicks:dTopTicks,topLabelX:115,topLabelY:2580,topStacks:dTopParts,
  pctX:1553,side0:1633,sideScale:8.2,sideEnd:1862,sideAxisY:2626,sideTicks:dSideTicks,sideLabelX:1741,sideLabelY:2528,
  riskTop:3324,riskH:41.5,riskFill:'#00b8dc',riskStroke:'#1a9ab4',riskLabel:'Risk:low',riskLabelX:207,
  legendOrder:dLegendOrder,legendX:230,legendCircleY:[3382,3415,3448,3482,3515.6,3548],legendTextX:249,legendTextY:[3388,3421,3454,3488,3521,3554]});

/* ===== GSEA PANELS ===== */
function gseaPanel(c){
  const g = group(c.name);
  const X=r=>c.x0+r*(c.x20k-c.x0)/20000;
  const ES=v=>c.esZero-c.esUnit*v;
  const M=v=>c.mZero-c.mUnit*v;
  rect(g,c.bgX,c.bgY,c.bgW,c.bgH,'#f2f2f2','panel-background');
  c.titles.forEach((t,i)=>txt(g,c.titleX,3796+i*42,t[0],30,'plot-title-line-'+(i+1),{bold:1,len:t[1]}));
  rect(g,c.x0,c.top,c.right-c.x0,c.metricBottom-c.top,'#fff','plot-area');
  rankTicks.forEach(r=>{
    line(g,X(r),c.top,X(r),c.esBottom,'#e2e2e2',1.2,'es-vertical-grid','4 4');
    line(g,X(r),c.stripBottom,X(r),c.metricBottom,'#e2e2e2',1.2,'metric-vertical-grid','4 4');
  });
  c.esTicks.forEach(t=>{
    line(g,c.x0,ES(t),c.right,ES(t),'#e2e2e2',1.2,'es-horizontal-grid','4 4');
    txt(g,c.x0-11,ES(t),t.toFixed(1),20,'es-tick-label',{anchor:'end',fill:'#555'});
  });
  c.mTicks.forEach(t=>{
    line(g,c.x0,M(t),c.right,M(t),'#e2e2e2',1.2,'metric-horizontal-grid','4 4');
    txt(g,c.x0-11,M(t),t.toFixed(1),17,'metric-tick-label',{anchor:'end',fill:'#333'});
  });
  line(g,c.x0,ES(0),c.right,ES(0),'#a0a0a0',2,'es-zero-line');
  poly(g,'polyline',c.esRanks.map((r,i)=>[X(r),ES(c.esValues[i])]),'none','#00ff00',5,'enrichment-profile');
  c.hits.forEach(h=>line(g,X(h),c.esBottom+3,X(h),c.hitBottom,'#3a3a3a',2,'hit-line'));
  stripShades.forEach((col,i)=>rect(g,X(stripRanks[i]),c.hitBottom,X(stripRanks[i+1])-X(stripRanks[i]),c.stripBottom-c.hitBottom,col,'rank-color-segment'));
  poly(g,'polygon',[[X(0),M(0)]].concat(metricRanks.map((r,i)=>[X(r),M(metricValues[i])]),[[X(19690),M(0)]]),'#c0c0c0',null,0,'ranking-metric-area');
  line(g,X(10090),c.stripBottom,X(10090),c.metricBottom,'#aaa',1.6,'zero-cross-line','6 4');
  line(g,c.x0,c.esBottom,c.right,c.esBottom,'#bbb',1.6,'es-panel-divider');
  line(g,c.x0,c.hitBottom,c.right,c.hitBottom,'#bbb',1.6,'hits-panel-divider');
  line(g,c.x0,c.stripBottom,c.right,c.stripBottom,'#bbb',1.6,'strip-divider');
  rect(g,c.x0,c.top,c.right-c.x0,c.metricBottom-c.top,'none','plot-border','#bbb',1.8);
  txt(g,c.x0+3,c.stripBottom+11,"'high-risk' (positively correlated)",16,'high-risk-annotation',{anchor:'start',fill:'#ff3c46',len:236});
  txt(g,X(10250),c.metricBottom-15,"'low-risk' (negatively correlated)",16,'low-risk-annotation',{anchor:'start',fill:'#4646ff',len:236});
  txt(g,X(8050),c.mZero-14.5,'Zero cross at 10090',15,'zero-cross-label',{anchor:'start',fill:'#333',len:134});
  rankTicks.forEach((r,i)=>txt(g,X(r)-(i===0?2:0),c.metricBottom+19,rankTickLabels[i],17,'x-tick-label',{fill:'#333'}));
  txt(g,c.rankX,c.metricBottom+49.5,'Rank in Ordered Dataset',20,'x-axis-title',{fill:'#222',len:218});
  txt(g,c.x0-61,c.esTitleY,'Enrichment score (ES)',24,'es-axis-title',{rot:1,fill:'#333',len:248});
  txt(g,c.x0-61,c.mTitleY,'Ranked list metric (Signal2Noise)',21,'metric-axis-title',{rot:1,fill:'#333',len:300});
  const L=c.legendX,T=c.legendY;
  rect(g,L,T,550,41,'#fff','legend-box','#000',2);
  line(g,L+5,T+20.5,L+29,T+20.5,'#00ff00',4.5,'legend-line-enrichment');
  txt(g,L+34,T+19,'Enrichment profile',19,'legend-entry-enrichment',{anchor:'start',fill:'#333',len:160});
  line(g,L+203,T+21,L+227,T+21,'#777',2.5,'legend-line-hits');
  txt(g,L+233,T+19,'Hits',19,'legend-entry-hits',{anchor:'start',fill:'#333',len:35});
  line(g,L+315,T+21,L+339,T+21,'#ddd',2.5,'legend-line-ranking');
  txt(g,L+345.6,T+19,'Ranking metric scores',19,'legend-entry-ranking',{anchor:'start',fill:'#333',len:197});
}
gseaPanel({name:'gsea-base-excision-repair',bgX:123,bgY:3776,bgW:801,bgH:806,titles:[['Enrichment plot: KEGG_BASE_EXCISION_REPAIR',701]],titleX:524,
  x0:217,right:912,x20k:890,top:3826,esBottom:4129,hitBottom:4231,stripBottom:4256,metricBottom:4462,esZero:4112,esUnit:402.7,mZero:4371.5,mUnit:146,
  esTicks:esTicksE,mTicks:metricTicksWide,esRanks:esRankE,esValues:esValueE,hits:hitsE,rankX:564,esTitleY:3978,mTitleY:4359,legendX:249,legendY:4538});
gseaPanel({name:'gsea-nucleotide-excision-repair',bgX:1069,bgY:3776,bgW:801,bgH:806,titles:[['Enrichment plot:',231],['KEGG_NUCLEOTIDE_EXCISION_REPAIR',565]],titleX:1465,
  x0:1162,right:1857,x20k:1836,top:3867,esBottom:4150.5,hitBottom:4245,stripBottom:4269,metricBottom:4460.5,esZero:4134.5,esUnit:464,mZero:4376,mUnit:135,
  esTicks:esTicksF,mTicks:metricTicksNarrow,esRanks:esRankF,esValues:esValueF,hits:hitsF,rankX:1510,esTitleY:4010,mTitleY:4366,legendX:1194,legendY:4538});
gseaPanel({name:'gsea-mismatch-repair',bgX:2004,bgY:3776,bgW:811,bgH:815,titles:[['Enrichment plot: KEGG_MISMATCH_REPAIR',630]],titleX:2410.5,
  x0:2099,right:2803,x20k:2780,top:3826,esBottom:4133,hitBottom:4236,stripBottom:4261,metricBottom:4469,esZero:4116,esUnit:464,mZero:4378,mUnit:147.5,
  esTicks:esTicksG,mTicks:metricTicksWide,esRanks:esRankG,esValues:esValueG,hits:hitsG,rankX:2450,esTitleY:3979.5,mTitleY:4366,legendX:2131,legendY:4547});
gseaPanel({name:'gsea-homologous-recombination',bgX:2936,bgY:3776,bgW:810,bgH:815,titles:[['Enrichment plot:',234],['KEGG_HOMOLOGOUS_RECOMBINATION',584]],titleX:3341,
  x0:3030,right:3733,x20k:3711,top:3868,esBottom:4154.6,hitBottom:4250,stripBottom:4274.5,metricBottom:4468.6,esZero:4138,esUnit:478,mZero:4383,mUnit:137,
  esTicks:esTicksH,mTicks:metricTicksNarrow,esRanks:esRankH,esValues:esValueH,hits:hitsH,rankX:3381,esTitleY:4013,mTitleY:4373,legendX:3062,legendY:4547});
</script>
</body></html>
